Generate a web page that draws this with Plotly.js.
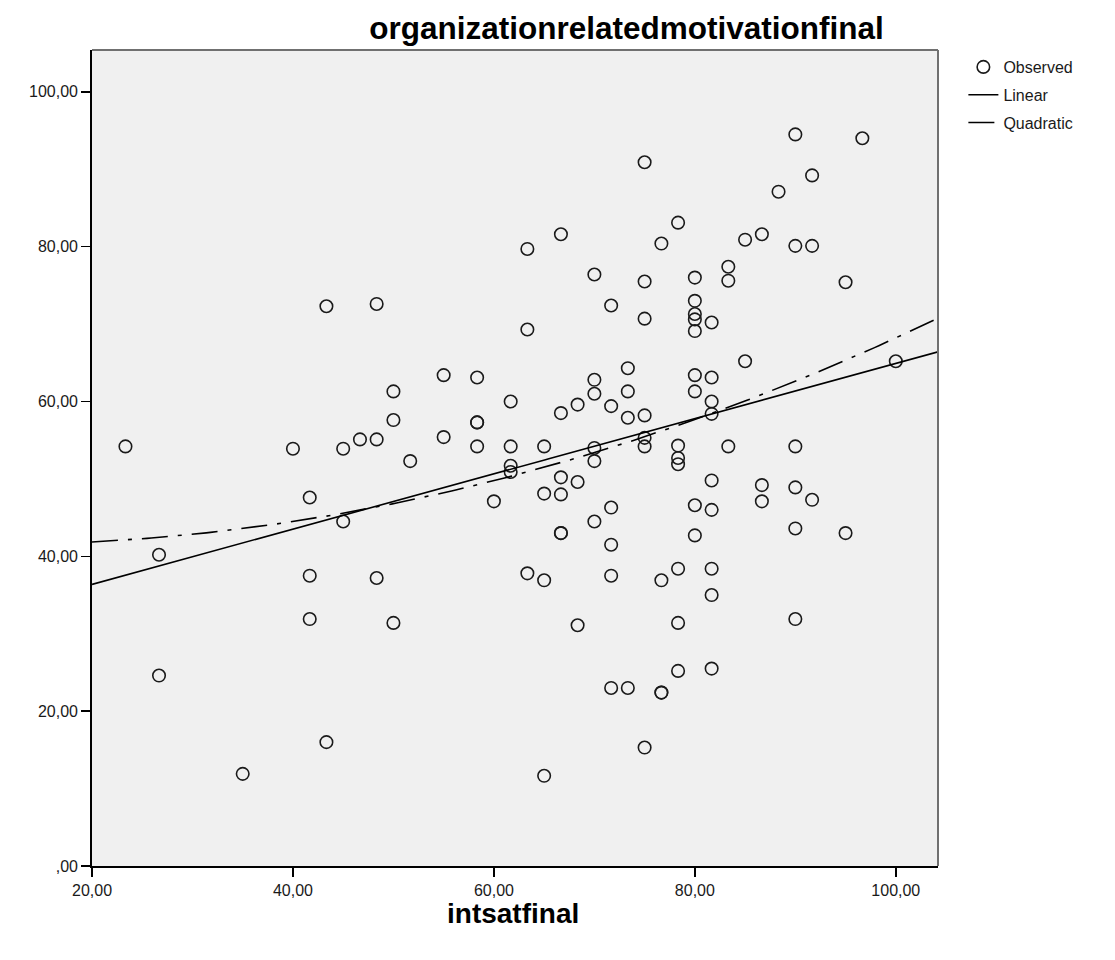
<!DOCTYPE html>
<html>
<head>
<meta charset="utf-8">
<script src="https://cdn.plot.ly/plotly-3.0.1.min.js"></script>
<style>html,body{margin:0;padding:0;background:#fff;}#chart{width:1115px;height:960px;}</style>
</head>
<body>
<div id="chart"></div>
<script>
const intsatfinal = [
  23.33,
  26.67, 26.67,
  35.00,
  40.00,
  41.67, 41.67, 41.67,
  43.33, 43.33,
  45.00, 45.00,
  46.67,
  48.33, 48.33, 48.33,
  50.00, 50.00, 50.00,
  51.67,
  55.00, 55.00,
  58.33, 58.33, 58.33, 58.33,
  60.00,
  61.67, 61.67, 61.67, 61.67,
  63.33, 63.33, 63.33,
  65.00, 65.00, 65.00, 65.00,
  66.67, 66.67, 66.67, 66.67, 66.67, 66.67,
  68.33, 68.33, 68.33,
  70.00, 70.00, 70.00, 70.00, 70.00, 70.00,
  71.67, 71.67, 71.67, 71.67, 71.67, 71.67,
  73.33, 73.33, 73.33, 73.33,
  75.00, 75.00, 75.00, 75.00, 75.00, 75.00, 75.00,
  76.67, 76.67, 76.67, 76.67,
  78.33, 78.33, 78.33, 78.33, 78.33, 78.33, 78.33,
  80.00, 80.00, 80.00, 80.00, 80.00, 80.00, 80.00, 80.00, 80.00,
  81.67, 81.67, 81.67, 81.67, 81.67, 81.67, 81.67, 81.67, 81.67,
  83.33, 83.33, 83.33,
  85.00, 85.00,
  86.67, 86.67, 86.67,
  88.33,
  90.00, 90.00, 90.00, 90.00, 90.00, 90.00,
  91.67, 91.67, 91.67,
  95.00, 95.00,
  96.67,
  100.00
];
const organizationrelatedmotivationfinal = [
  54.2,
  40.2, 24.6,
  11.9,
  53.9,
  47.6, 37.5, 31.9,
  72.3, 16.0,
  53.9, 44.5,
  55.1,
  55.1, 72.6, 37.2,
  61.3, 57.6, 31.4,
  52.3,
  63.4, 55.4,
  63.1, 57.3, 57.3, 54.2,
  47.1,
  60.0, 54.2, 51.7, 50.9,
  79.7, 69.3, 37.8,
  54.2, 48.1, 36.9, 11.65,
  81.6, 58.5, 50.2, 48.0, 43.0, 43.0,
  59.6, 49.6, 31.1,
  76.4, 62.8, 61.0, 54.0, 52.3, 44.5,
  72.4, 59.4, 46.3, 41.5, 37.5, 23.0,
  64.3, 61.3, 57.9, 23.0,
  90.9, 75.5, 70.7, 58.2, 55.3, 54.2, 15.3,
  80.4, 36.9, 22.4, 22.4,
  83.1, 54.3, 52.7, 51.9, 38.4, 31.4, 25.2,
  76.0, 73.0, 71.3, 70.6, 69.1, 63.4, 61.3, 46.6, 42.7,
  70.2, 63.1, 60.0, 58.4, 49.8, 46.0, 38.4, 35.0, 25.5,
  77.4, 75.6, 54.2,
  80.9, 65.2,
  81.6, 49.2, 47.1,
  87.1,
  94.5, 80.1, 54.2, 48.9, 43.6, 31.9,
  89.2, 80.1, 47.3,
  75.4, 43.0,
  94.0,
  65.2
];
const xTickVals = [20, 40, 60, 80, 100];
const xTickText = ["20,00", "40,00", "60,00", "80,00", "100,00"];
const yTickVals = [0, 20, 40, 60, 80, 100];
const yTickText = [",00", "20,00", "40,00", "60,00", "80,00", "100,00"];
const xRange = [20, 104.2];
const yRange = [0, 105.4];

// Least-squares fits computed from the observed data (as the original software does)
function solve3(A, b) {
  const M = A.map((r, i) => r.concat([b[i]]));
  for (let c = 0; c < 3; c++) {
    let p = c;
    for (let r = c + 1; r < 3; r++) if (Math.abs(M[r][c]) > Math.abs(M[p][c])) p = r;
    [M[c], M[p]] = [M[p], M[c]];
    for (let r = 0; r < 3; r++) {
      if (r === c) continue;
      const f = M[r][c] / M[c][c];
      for (let k = c; k < 4; k++) M[r][k] -= f * M[c][k];
    }
  }
  return [M[0][3] / M[0][0], M[1][3] / M[1][1], M[2][3] / M[2][2]];
}
const n = intsatfinal.length;
let sx = 0, sy = 0, sxx = 0, sxy = 0, sx3 = 0, sx4 = 0, sx2y = 0;
for (let i = 0; i < n; i++) {
  const x = intsatfinal[i], y = organizationrelatedmotivationfinal[i];
  sx += x; sy += y; sxx += x * x; sxy += x * y;
  sx3 += x * x * x; sx4 += x * x * x * x; sx2y += x * x * y;
}
const slope = (n * sxy - sx * sy) / (n * sxx - sx * sx);
const intercept = (sy - slope * sx) / n;
const q = solve3([[n, sx, sxx], [sx, sxx, sx3], [sxx, sx3, sx4]], [sy, sxy, sx2y]);

const lineX = [], linY = [], quadY = [];
const steps = 200;
for (let i = 0; i <= steps; i++) {
  const x = xRange[0] + (xRange[1] - xRange[0]) * i / steps;
  lineX.push(x);
  linY.push(intercept + slope * x);
  quadY.push(q[0] + q[1] * x + q[2] * x * x);
}

const traces = [
  {
    type: 'scatter', mode: 'markers', name: 'Observed', legendgroup: 'a',
    x: intsatfinal, y: organizationrelatedmotivationfinal,
    marker: { symbol: 'circle-open', size: 12.5, color: '#1a1a1a', line: { width: 1.6, color: '#1a1a1a' } },
    cliponaxis: false
  },
  {
    type: 'scatter', mode: 'lines', name: 'Linear', legendgroup: 'b',
    x: lineX, y: linY,
    line: { color: '#000', width: 1.6 }
  },
  {
    type: 'scatter', mode: 'lines', name: 'Quadratic', legendgroup: 'c',
    x: lineX, y: quadY,
    line: { color: '#000', width: 1.6, dash: '26px,10px,4px,10px' }
  }
];

const tickFont = { family: 'Liberation Sans, Arial, sans-serif', size: 16, color: '#1a1a1a' };
const layout = {
  width: 1115, height: 960,
  margin: { l: 91.5, r: 177.3, t: 50, b: 94, pad: 0 },
  paper_bgcolor: '#ffffff',
  plot_bgcolor: '#f0f0f0',
  showlegend: true,
  title: {
    text: 'organizationrelatedmotivationfinal',
    font: { family: 'Liberation Sans, Arial, sans-serif', size: 31.5, color: '#000', weight: 'bold' },
    xref: 'container', yref: 'container',
    x: 626.5 / 1115, y: 1 - 28 / 960, xanchor: 'center', yanchor: 'middle'
  },
  xaxis: {
    range: xRange, tickmode: 'array', tickvals: xTickVals, ticktext: xTickText,
    ticks: 'outside', ticklen: 9, tickwidth: 1.6, tickcolor: '#000',
    showline: true, linecolor: '#000', linewidth: 1.8, mirror: false,
    showgrid: false, zeroline: false, tickfont: tickFont, fixedrange: true
  },
  yaxis: {
    range: yRange, tickmode: 'array', tickvals: yTickVals, ticktext: yTickText,
    ticks: 'outside', ticklen: 9, tickwidth: 1.6, tickcolor: '#000',
    showline: true, linecolor: '#000', linewidth: 1.8, mirror: false,
    showgrid: false, zeroline: false, tickfont: tickFont, fixedrange: true
  },
  shapes: [
    { type: 'line', xref: 'paper', yref: 'paper', x0: 0, x1: 1, y0: 1, y1: 1, line: { color: '#707070', width: 2 } },
    { type: 'line', xref: 'paper', yref: 'paper', x0: 1, x1: 1, y0: 0, y1: 1, line: { color: '#707070', width: 2 } }
  ],
  annotations: [
    {
      text: 'intsatfinal', showarrow: false,
      xref: 'paper', yref: 'paper', x: (513 - 91.5) / 846.2, y: -(913 - 866) / 816,
      xanchor: 'center', yanchor: 'middle',
      font: { family: 'Liberation Sans, Arial, sans-serif', size: 28, color: '#000', weight: 'bold' }
    }
  ],
  legend: {
    x: 1.03, y: 1.0, xanchor: 'left', yanchor: 'top',
    bgcolor: 'rgba(0,0,0,0)', borderwidth: 0,
    font: { family: 'Liberation Sans, Arial, sans-serif', size: 16, color: '#1a1a1a' },
    itemwidth: 30, tracegroupgap: 4
  }
};

Plotly.newPlot('chart', traces, layout, { staticPlot: true, displayModeBar: false });
</script>
</body>
</html>
